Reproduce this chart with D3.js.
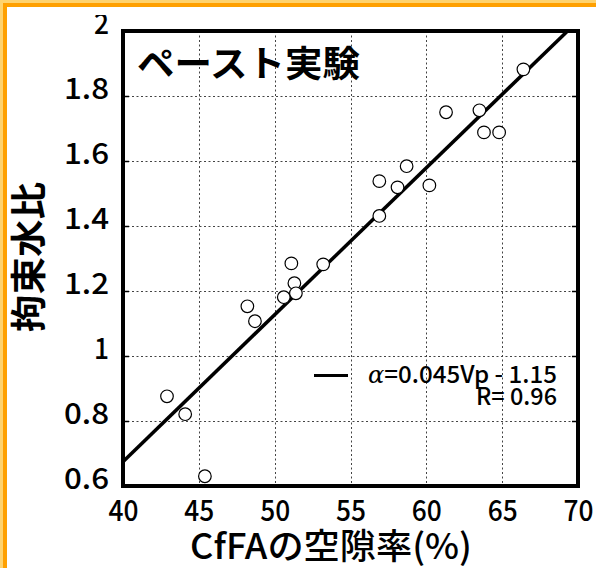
<!DOCTYPE html>
<html>
<head>
<meta charset="utf-8">
<script src="https://cdn.jsdelivr.net/npm/d3@7"></script>
<style>
  html, body { margin: 0; padding: 0; background: #fff; }
  svg { display: block; }
</style>
</head>
<body>
<script>
// ---- data ----
const voidRatio = [66.4, 61.3, 63.5, 63.8, 64.8, 58.7, 56.9, 58.1, 60.2, 56.9,
                   53.2, 51.1, 51.3, 51.4, 50.6, 48.2, 48.7, 42.9, 44.1, 45.4];
const restraint = [1.882, 1.750, 1.756, 1.688, 1.688, 1.584, 1.538, 1.519, 1.525, 1.431,
                   1.282, 1.285, 1.224, 1.193, 1.181, 1.153, 1.107, 0.876, 0.821, 0.630];
const fitSlope = [0.0452];
const fitIntercept = [-1.133];
const xTicks = [40, 45, 50, 55, 60, 65, 70];
const yTicks = [0.6, 0.8, 1.0, 1.2, 1.4, 1.6, 1.8, 2.0];
const yTickLabels = ["0.6", "0.8", "1", "1.2", "1.4", "1.6", "1.8", "2"];
const titleText = ["ペースト実験"];
const xLabel = ["CfFAの空隙率(%)"];
const yLabel = ["拘束水比"];
const legendEq = ["α", "=0.045Vp - 1.15"];
const legendR = ["R= 0.96"];

const W = 596, H = 568;
const svg = d3.select("body").append("svg").attr("width", W).attr("height", H);
svg.append("rect").attr("width", W).attr("height", H).attr("fill", "#fff");

// orange page border (left & top)
svg.append("rect").attr("x", 0).attr("y", 0).attr("width", 7).attr("height", H).attr("fill", "#FFA000");
svg.append("rect").attr("x", 0).attr("y", 0).attr("width", W).attr("height", 7).attr("fill", "#FFA000");
svg.append("rect").attr("x", 0).attr("y", 0).attr("width", 3).attr("height", H).attr("fill", "#FFD36E");
svg.append("rect").attr("x", 0).attr("y", 0).attr("width", W).attr("height", 3).attr("fill", "#FFD36E");

const L = 123, R = 578, T = 31, B = 486;
const x = d3.scaleLinear().domain([40, 70]).range([L, R]);
const y = d3.scaleLinear().domain([0.6, 2.0]).range([B, T]);

const monoFont = "'Noto Sans CJK JP', 'DejaVu Sans', sans-serif";
const charW = 15;

const defs = svg.append("defs");
// clip for y tick labels (top label is cut in reference); in the axis group's coordinates
defs.append("clipPath").attr("id", "lblclip").append("rect")
  .attr("x", -L).attr("y", 15).attr("width", W).attr("height", H - 15);
defs.append("clipPath").attr("id", "plotclip").append("rect")
  .attr("x", L).attr("y", T).attr("width", R - L).attr("height", B - T);

// grid
const grid = svg.append("g").attr("stroke", "#444").attr("stroke-width", 1)
  .attr("stroke-dasharray", "2,2.5");
grid.selectAll(".gx").data(xTicks.slice(1, -1)).join("line")
  .attr("x1", d => Math.round(x(d)) + 0.5).attr("x2", d => Math.round(x(d)) + 0.5)
  .attr("y1", T).attr("y2", B);
grid.selectAll(".gy").data(yTicks.slice(1, -1)).join("line")
  .attr("y1", d => Math.round(y(d)) + 0.5).attr("y2", d => Math.round(y(d)) + 0.5)
  .attr("x1", L).attr("x2", R);

// y axis (left), inward ticks
const yAxis = d3.axisLeft(y).tickValues(yTicks)
  .tickFormat((d, i) => yTickLabels[i]).tickSize(-6).tickPadding(14);
const gy = svg.append("g").attr("transform", `translate(${L},0)`).call(yAxis)
  .attr("clip-path", "url(#lblclip)");
gy.select(".domain").remove();
gy.selectAll(".tick line").attr("stroke", "#000").attr("stroke-width", 1.5);
gy.selectAll(".tick text")
  .attr("fill", "#000").attr("font-family", monoFont).attr("font-size", 29).attr("font-weight", 500)
  .attr("dy", "0.09em")
  .attr("textLength", function () { return this.textContent.length * charW; })
  .attr("lengthAdjust", "spacingAndGlyphs");

// right inward ticks
const yAxisR = d3.axisRight(y).tickValues(yTicks).tickFormat("").tickSize(-6);
const gyr = svg.append("g").attr("transform", `translate(${R},0)`).call(yAxisR);
gyr.select(".domain").remove();
gyr.selectAll(".tick line").attr("stroke", "#000").attr("stroke-width", 1.5);

// x axis labels
const xAxis = d3.axisBottom(x).tickValues(xTicks).tickFormat(d3.format("d")).tickSize(0).tickPadding(13);
const gx = svg.append("g").attr("transform", `translate(0,${B})`).call(xAxis);
gx.select(".domain").remove();
gx.selectAll(".tick text")
  .attr("fill", "#000").attr("font-family", monoFont).attr("font-size", 29).attr("font-weight", 500)
  .attr("dy", "0.75em")
  .attr("textLength", function () { return this.textContent.length * charW; })
  .attr("lengthAdjust", "spacingAndGlyphs");

// regression line
const xd = x.domain();
svg.append("g").attr("clip-path", "url(#plotclip)")
  .append("line")
  .attr("x1", x(xd[0])).attr("y1", y(fitSlope[0] * xd[0] + fitIntercept[0]))
  .attr("x2", x(xd[1])).attr("y2", y(fitSlope[0] * xd[1] + fitIntercept[0]))
  .attr("stroke", "#000").attr("stroke-width", 3.5);

// points
svg.append("g").selectAll("circle").data(voidRatio).join("circle")
  .attr("cx", d => x(d)).attr("cy", (d, i) => y(restraint[i]))
  .attr("r", 6.3).attr("fill", "#fff").attr("stroke", "#000").attr("stroke-width", 1.2);

// frame
svg.append("rect").attr("x", L).attr("y", T).attr("width", R - L).attr("height", B - T)
  .attr("fill", "none").attr("stroke", "#000").attr("stroke-width", 4);

// title
svg.append("text").attr("x", 137).attr("y", 77)
  .attr("font-family", "'Noto Sans CJK JP', sans-serif").attr("font-weight", 700)
  .attr("font-size", 36).attr("textLength", 223).attr("lengthAdjust", "spacingAndGlyphs")
  .text(titleText[0]);

// legend
svg.append("line").attr("x1", 314).attr("x2", 348).attr("y1", 375.5).attr("y2", 375.5)
  .attr("stroke", "#000").attr("stroke-width", 3);
const eq = svg.append("text").attr("x", 368).attr("y", 383)
  .attr("font-family", monoFont).attr("font-size", 24).attr("font-weight", 500)
  .attr("textLength", 189).attr("lengthAdjust", "spacingAndGlyphs");
eq.append("tspan").attr("font-style", "italic").attr("font-family", "'DejaVu Serif', serif").text(legendEq[0]);
eq.append("tspan").text(legendEq[1]);
svg.append("text").attr("x", 557).attr("y", 405).attr("text-anchor", "end")
  .attr("font-family", monoFont).attr("font-size", 24).attr("font-weight", 500)
  .attr("textLength", 81).attr("lengthAdjust", "spacingAndGlyphs")
  .text(legendR[0]);

// axis titles
svg.append("text").attr("x", 331).attr("y", 559).attr("text-anchor", "middle")
  .attr("font-family", "'Noto Sans CJK JP', sans-serif").attr("font-weight", 500)
  .attr("font-size", 35).attr("textLength", 282).attr("lengthAdjust", "spacingAndGlyphs")
  .text(xLabel[0]);
svg.append("text")
  .attr("transform", "translate(42,257) rotate(-90)").attr("text-anchor", "middle")
  .attr("font-family", "'Noto Sans CJK JP', sans-serif").attr("font-weight", 700)
  .attr("font-size", 36).attr("textLength", 150).attr("lengthAdjust", "spacingAndGlyphs")
  .text(yLabel[0]);
</script>
</body>
</html>
